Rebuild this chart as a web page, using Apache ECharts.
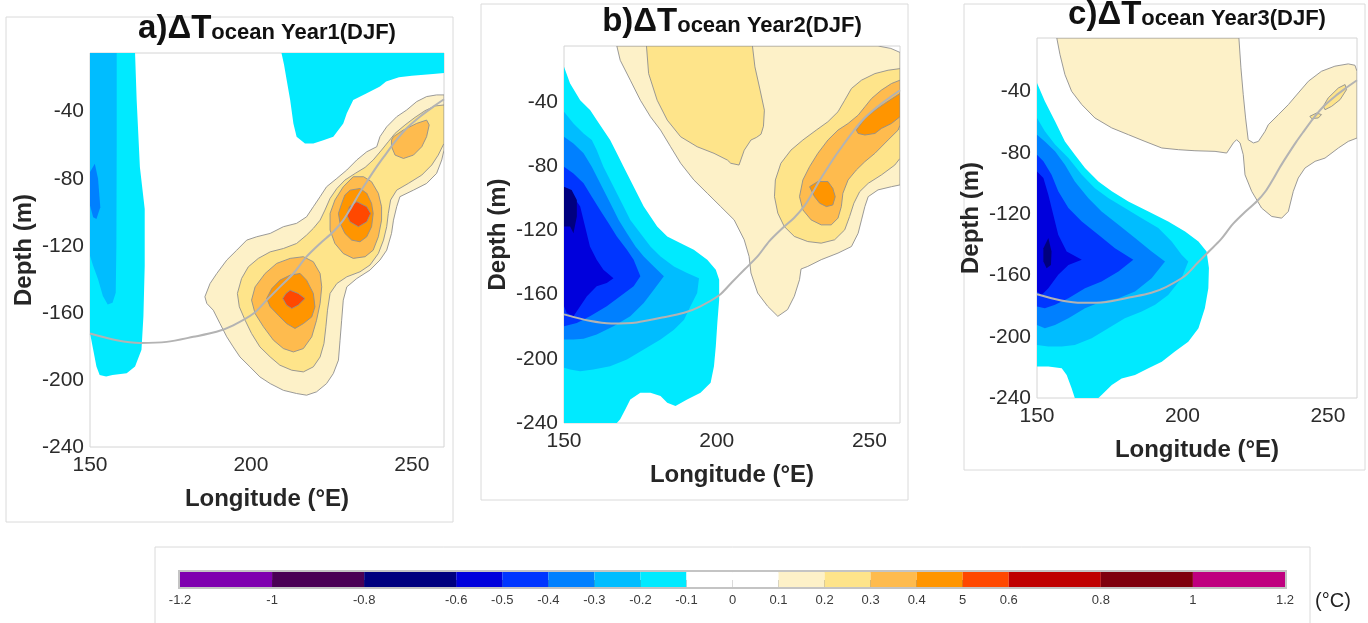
<!DOCTYPE html>
<html>
<head>
<meta charset="utf-8">
<script src="https://cdn.jsdelivr.net/npm/echarts@6/dist/echarts.min.js"></script>
<style>
  html, body { margin: 0; padding: 0; background: #fff; }
  #chart { width: 1368px; height: 623px; }
</style>
</head>
<body>
<div id="chart"></div>
<script>
// colour scale (°C)
const cbEdges  = [-1.2, -1, -0.8, -0.6, -0.5, -0.4, -0.3, -0.2, -0.1, 0, 0.1, 0.2, 0.3, 0.4, 0.5, 0.6, 0.8, 1, 1.2];
const cbLabels = ['-1.2', '-1', '-0.8', '-0.6', '-0.5', '-0.4', '-0.3', '-0.2', '-0.1', '0', '0.1', '0.2', '0.3', '0.4', '5', '0.6', '0.8', '1', '1.2'];
const cbColors = ['#7f00af', '#4a0055', '#00007f', '#0000dc', '#0035ff', '#0080ff', '#00bdff', '#00eaff',
                  '#ffffff', '#ffffff', '#fdf1c8', '#fee48a', '#febb4e', '#ff9500', '#ff4800', '#bf0000', '#7f000d', '#bf007f'];

// climatological thermocline (lon °E, depth m), same in all panels
const thermoLon   = [150, 158.3, 165.5, 173.8, 182.1, 189.3, 194.5, 200.8, 204.9, 209, 213.2, 217.3, 221.5, 225.6, 228.7, 231.3, 233.4, 236, 239.1, 241.7, 244.8, 248.4, 252.5, 256.7, 260];
const thermoDepth = [-172.3, -176.3, -177.9, -177.3, -174.3, -171.3, -167.4, -160.4, -152.4, -144.5, -136.5, -126.5, -118.6, -111.6, -104.7, -96.7, -89.7, -81.8, -72.8, -65.9, -57.9, -49.9, -43, -37, -32.6];

// ---- a) Year1 contours [lon, depth] ----
const aCold1 = [[150,-5],[164,-5],[164.5,-33],[165.5,-73],[167,-98],[167,-132],[166.6,-162],[166,-182],[164,-192],[161.4,-196],[157,-197],[155,-198],[153,-197],[152,-192],[151,-182],[150,-172]];
const aCold2 = [[150,-5],[158.3,-5],[158.3,-60],[158.2,-120],[158,-148],[157,-154],[155.5,-155],[154,-150],[152.5,-140],[151,-132],[150,-126]];
const aCold3 = [[150,-76],[151.5,-71],[152.5,-80],[153.2,-97],[152,-104],[151,-103],[150,-96]];
const aColdTop = [[209.5,-5],[260,-5],[260,-17],[256.6,-17.5],[250,-18.5],[246,-19.5],[242,-22],[240.1,-25],[236,-29],[231.8,-33],[229.8,-41],[228.7,-47],[225.6,-55],[222.5,-57],[219.4,-59],[216.8,-59],[214.2,-55],[213.2,-47],[212.2,-33],[211.1,-21],[210.3,-12]];
const aWarm1 = [[260,-30],[257.7,-30],[254.6,-31],[251.5,-34],[248.4,-39],[245.3,-43],[242.2,-49],[240.1,-54.9],[239.1,-60.9],[236,-63.9],[232.9,-68.8],[229.8,-74.8],[226.7,-79.8],[223.5,-84.8],[221.5,-90.7],[219.4,-96.7],[217.3,-102.7],[214.2,-106.6],[210.1,-108.6],[206,-112.6],[201.8,-114.6],[198.7,-116.6],[195.6,-122.6],[192.5,-128.5],[189.4,-136.5],[187.3,-142.5],[185.7,-150.4],[186.3,-154.4],[188.3,-158.4],[190.4,-166.4],[192.5,-174.3],[194.5,-180.3],[196.6,-186.3],[199.7,-192.2],[202.8,-198.2],[206,-202.2],[210.1,-206.2],[214.2,-208.1],[217.3,-209.1],[220.4,-207.1],[223.5,-202.2],[225.6,-196.2],[227.2,-188.2],[227.7,-176.3],[228.2,-164.4],[228.7,-152.4],[229.8,-144.5],[232.9,-139.5],[237,-134.5],[240.1,-128.5],[242.2,-122.6],[243.7,-112.6],[244.3,-104.7],[245.3,-96.7],[246.3,-90.7],[250.5,-86.8],[254.6,-82.8],[257.7,-76.8],[259.3,-68.8],[260,-62.9]];
const aWarm2 = [[260,-36],[257.2,-36.6],[254.1,-39.4],[251,-43.4],[247.9,-47.9],[244.8,-52.9],[242.7,-57.9],[240.6,-62.9],[238,-68.8],[235.5,-73.2],[232.4,-76.8],[229.2,-80.8],[226.7,-85.8],[224.6,-91.7],[223,-98.7],[221.5,-104.7],[219.4,-109.6],[217.3,-113.6],[214.2,-118.6],[210.1,-121.6],[206,-123.6],[202.3,-127.5],[199.2,-132.5],[197.1,-139.5],[195.8,-148.4],[196.4,-156.4],[198.2,-164.4],[200.2,-172.3],[202.8,-180.3],[206,-186.3],[209,-191.2],[212.7,-194.2],[216.3,-195.2],[219.4,-192.2],[221.5,-186.3],[222.7,-178.3],[223.3,-168.3],[223.8,-158.4],[224.6,-148.4],[226.7,-142.5],[229.8,-138.5],[233.9,-135.5],[237,-131.5],[239.6,-124.6],[241.2,-116.6],[242.2,-108.6],[242.7,-100.7],[243.4,-92.7],[245.3,-86.8],[248.9,-82.8],[253.1,-77.8],[256.2,-71.8],[258.2,-65.9],[260,-58.9]];
const aWarm3Up  = [[244.3,-54.9],[247.4,-50.9],[251.5,-47],[254.6,-45],[255.4,-47.9],[254.6,-54.9],[253.1,-60.9],[250.5,-65.9],[247.4,-67.9],[244.8,-65.9],[243.7,-60.9],[243.7,-56.9]];
const aWarm3Mid = [[231.8,-78.8],[235,-78.8],[237.5,-81.8],[239.6,-88.7],[240.6,-96.7],[240.6,-104.7],[239.6,-114.6],[238,-122.6],[235.5,-126.5],[231.8,-127.5],[228.7,-124.6],[226.1,-118.6],[224.6,-110.6],[224.6,-100.7],[226.1,-92.7],[228.7,-84.8]];
const aWarm3Low = [[208,-130.5],[212.2,-127.5],[216.3,-126.5],[219.4,-129.5],[221.5,-136.5],[222,-144.5],[221.5,-154.4],[220.4,-164.4],[218.9,-174.3],[216.3,-181.3],[213.2,-183.3],[210.1,-181.3],[207,-176.3],[203.9,-168.3],[201.3,-160.4],[200.2,-152.4],[201.3,-144.5],[204.4,-136.5]];
const aWarm4Mid = [[230.8,-86.8],[233.9,-85.8],[236,-88.7],[237.5,-94.7],[238,-100.7],[237.5,-108.6],[236,-114.6],[233.9,-117.6],[231.3,-116.6],[229.2,-112.6],[227.7,-106.6],[227.2,-100.7],[228.2,-94.7],[229.2,-89.7]];
const aWarm4Low = [[209,-140.5],[212.2,-137.5],[215.3,-136.5],[217.3,-140.5],[219.4,-148.4],[219.9,-156.4],[218.9,-162.4],[216.3,-166.4],[213.7,-169.3],[211.1,-166.4],[208.5,-161.4],[206,-156.4],[204.9,-151.4],[206.5,-145.5]];
const aWarm5Mid = [[232.9,-93.7],[236,-96.7],[237.2,-100.7],[236,-105.7],[233.4,-108.6],[230.8,-105.7],[229.8,-101.7],[230.6,-96.7]];
const aWarm5Low = [[212.2,-146.5],[214.7,-148.4],[216.8,-151.4],[214.7,-155.4],[212.7,-157.4],[211.1,-155.4],[209.9,-151.4],[210.9,-148.4]];

// ---- b) Year2 contours ----
const bCold1 = [[150,-18],[152,-28.4],[155.3,-38.8],[158.6,-45],[160.7,-51.2],[162.9,-57.4],[165.1,-63.6],[167.3,-71.9],[169.5,-80.2],[171.7,-88.5],[173.9,-96.8],[176.1,-105.1],[178.3,-111.3],[180.5,-117.5],[183.8,-123.7],[188.2,-127.9],[192.5,-132],[196.9,-138.2],[199.7,-144.5],[200.8,-150.7],[200.8,-163.1],[200.2,-177.6],[199.7,-192.1],[199.1,-204.6],[198,-214.9],[194.7,-221.2],[190.3,-225.3],[186.5,-229.4],[183.8,-227.4],[181.6,-223.2],[178.3,-221.2],[175,-221.2],[171.7,-225.3],[170.1,-231.5],[168.4,-237.7],[167.3,-240],[150,-240]];
const bCold2 = [[150,-46],[153.1,-53.3],[156.4,-59.5],[159.1,-63.6],[160.7,-69.8],[162.9,-80.2],[165.1,-88.5],[167.3,-96.8],[169.5,-105.1],[171.7,-113.4],[175,-121.7],[178.3,-130],[181.6,-136.2],[186,-142.4],[190.3,-146.5],[194.2,-149.7],[193.6,-159],[191.4,-167.3],[189.3,-175.6],[186,-181.8],[181.6,-188],[176.1,-194.2],[170.6,-200.4],[165.1,-204.6],[159.6,-206.6],[155.3,-207.7],[152,-206.6],[150,-205.6]];
const bCold3 = [[150,-61.6],[153.1,-65.7],[156.4,-71.9],[159.1,-80.2],[161.3,-88.5],[163.5,-96.8],[165.7,-105.1],[167.9,-113.4],[170.6,-121.7],[173.4,-130],[176.1,-136.2],[179.4,-142.4],[182.7,-148.6],[179.4,-156.9],[176.1,-165.2],[171.7,-173.5],[166.2,-179.7],[160.7,-184.8],[156.4,-187.5],[153.1,-188],[150,-188]];
const bCold4 = [[150,-80.2],[153.1,-84.4],[156.4,-90.6],[159.1,-98.9],[161.8,-107.2],[164.6,-115.5],[167.3,-123.7],[170.6,-132],[172.8,-138.2],[175,-148.6],[172.8,-154.8],[168.4,-161],[164,-167.3],[158.5,-173.5],[154.2,-177.6],[150,-179.7]];
const bCold5 = [[150,-96.8],[153.1,-98.9],[155.3,-105.1],[156.9,-117.5],[158.5,-130],[160.7,-138.2],[162.9,-144.5],[166.2,-149.7],[164,-152.8],[160.7,-154.8],[157.5,-161],[155.3,-167.3],[153.1,-173.5],[150.9,-171.4],[150,-167.3]];
const bCold6 = [[150,-92.7],[152.5,-94.7],[154.2,-101],[154.2,-111.3],[153.1,-121.7],[152,-117.5],[150,-117.5]];
const bWarm1 = [[167.3,-5],[252.8,-5],[257,-6.5],[260,-9],[260,-91.6],[257.2,-92.7],[252.8,-94.7],[249.6,-98.9],[248.5,-105.1],[247.4,-113.4],[246.3,-121.7],[244.1,-130],[239.7,-134.1],[234.2,-138.2],[229.8,-142.4],[227.6,-144],[227.1,-150.7],[225.4,-161],[223.2,-169.3],[220,-173.5],[216.7,-167.3],[213.4,-159],[211.2,-146.5],[210.6,-136.2],[209,-125.8],[205.7,-113.4],[201.3,-105.1],[196.9,-96.8],[192.5,-88.5],[188.2,-78.1],[184.9,-67.8],[181.6,-57.4],[178.3,-49.1],[175,-38.8],[171.7,-26.3],[168.4,-13.9]];
const bWarm2Left  = [[177,-5],[211.7,-5],[212.5,-18],[214.2,-32.5],[215.6,-45],[215.3,-55],[214.5,-60],[213,-62],[211.2,-63.6],[209,-70],[207.3,-79.2],[204.6,-78.1],[203.5,-76.1],[199.1,-71.9],[193.6,-67.8],[188.2,-61.6],[183.8,-51.2],[180.5,-38.8],[177.7,-22.2]];
const bWarm2Right = [[260,-19.1],[256.1,-20.1],[251.8,-22.2],[247.4,-26.3],[244.1,-31.5],[241.9,-38.8],[239.7,-46],[236.4,-52.2],[232.6,-57.4],[228.2,-63.6],[224.3,-69.9],[221,-78.1],[219.2,-88.5],[218.9,-98.9],[220,-109.2],[222.1,-117.5],[225.4,-123.7],[229.8,-126.9],[234.2,-127.9],[238.6,-125.8],[241.9,-119.6],[243.5,-111.3],[244.9,-103],[246.8,-95.8],[249.6,-90.6],[253.9,-85.4],[258.3,-79.2],[260,-75]];
const bWarm3 = [[260,-26.3],[257.2,-28.4],[253.9,-32.5],[250.7,-37.7],[248.5,-42.9],[246.3,-48.1],[243,-53.3],[239.7,-57.4],[236.4,-63.6],[233.1,-71.9],[230.4,-80.2],[228.2,-88.5],[227.1,-98.9],[228.2,-107.2],[230.9,-113.4],[234.2,-116.5],[237.5,-116.5],[239.7,-112.3],[240.8,-105.1],[241.3,-96.8],[243,-88.5],[245.7,-82.3],[248.5,-77.1],[251.8,-71.9],[256.1,-63.6],[259.4,-57.4],[260,-54.3]];
const bWarm4Low = [[230.4,-92.7],[233.1,-89.5],[236.4,-89.5],[238,-93.7],[238.8,-98.9],[238,-104.1],[235.9,-105.1],[233.7,-103],[232,-98.9]];
const bWarm4Up  = [[245.7,-57.4],[248.5,-50.2],[251.8,-45],[255,-40.8],[258.3,-36.7],[260,-34.6],[260,-49.1],[257.2,-53.3],[253.9,-56.4],[251.8,-59.5],[248.5,-60.5],[246.3,-59.5]];

// ---- c) Year3 contours ----
const cCold1 = [[150,-34.3],[152.7,-46.3],[156.2,-59.4],[159.6,-72.5],[163,-81.2],[166.5,-89.9],[171.1,-98.6],[175.7,-105.1],[181.4,-111.7],[188.3,-118.2],[195.1,-124.8],[200.9,-131.3],[205.5,-137.8],[208.3,-144.4],[209.1,-155.2],[208.9,-168.3],[207.7,-181.4],[205.5,-194.5],[202,-203.2],[197.4,-209.7],[192.9,-216.3],[188.3,-220.6],[183.7,-225],[179.1,-227.2],[175.7,-231.5],[172.2,-238],[171.1,-240],[163,-240],[161.9,-233.7],[160.2,-225],[158.5,-220.6],[153.9,-219.5],[150,-219.5]];
const cCold2 = [[150,-57.2],[152.7,-65.9],[156.2,-74.6],[160.8,-83.4],[165.4,-94.3],[169.9,-103],[174.5,-109.5],[180.2,-116],[186,-122.6],[191.7,-129.1],[196.3,-137.8],[199.7,-146.5],[202,-150.9],[199.7,-161.8],[195.1,-172.7],[190.6,-179.2],[186,-183.6],[180.2,-187.9],[174.5,-194.5],[168.8,-201],[163,-205.4],[158.5,-206.4],[153.9,-206.4],[150,-205.4]];
const cCold3 = [[150,-68.1],[152.7,-72.5],[156.2,-79],[159.6,-87.7],[163,-98.6],[167.6,-109.5],[172.2,-118.2],[178,-126.9],[183.7,-135.6],[189.4,-144.4],[194,-150.9],[189.4,-161.8],[183.7,-170.5],[178,-174.9],[172.2,-177],[166.5,-181.4],[160.8,-187.9],[156.2,-192.3],[152.7,-194.5],[150,-192.3]];
const cCold4 = [[150,-81.2],[152.2,-85.5],[155,-94.3],[157.3,-105.1],[160.8,-116],[165.4,-124.8],[171.1,-133.5],[176.8,-142.2],[183.1,-149.8],[178,-157.4],[172.2,-164],[166.5,-168.3],[160.8,-174.9],[156.2,-179.2],[152.7,-181.4],[150,-180.3]];
const cCold5 = [[150,-92.1],[152.2,-96.4],[153.9,-107.3],[155.6,-120.4],[157.3,-133.5],[160.2,-144.4],[165.4,-149.8],[160.8,-153.1],[157.3,-159.6],[153.9,-168.3],[151.6,-172.7],[150,-170.5]];
const cCold6 = [[152.2,-142.2],[153.9,-135.6],[155,-144.4],[154.8,-153.1],[153.3,-155.3],[152.2,-150.9]];
const cWarm1 = [[156.8,-5],[219.4,-5],[220.1,-24.5],[220.9,-42],[221.7,-57.2],[222.6,-71.4],[224.4,-73.5],[226.1,-72.5],[228.4,-65.9],[229.5,-61.6],[233,-55],[236.4,-48.5],[239.8,-40.9],[243.3,-33.2],[247.8,-26.7],[252.4,-23.4],[257,-21.9],[259.3,-22.8],[260,-26.7],[260,-70.3],[257,-72.5],[253.6,-76.8],[249,-83.4],[245.6,-85.5],[242.1,-89.9],[239.8,-96.4],[238.1,-105.1],[236.4,-118.2],[234.1,-122.6],[230.7,-121.5],[227.2,-116],[223.8,-105.1],[221.5,-94.3],[220.9,-81.2],[219.8,-73.5],[218.6,-71.4],[217.5,-73.5],[215.2,-80.1],[211.2,-79],[204.3,-78.6],[198.6,-77.9],[192.9,-76.8],[187.1,-72.5],[181.4,-68.1],[175.7,-63.7],[169.9,-57.2],[165.4,-48.5],[161.9,-39.8],[159.6,-28.9],[157.9,-15.8]];
const cWarm2a = [[248.4,-49.6],[250.1,-44.1],[253.6,-37.6],[255.9,-35.4],[256.4,-38.7],[254.2,-45.2],[251.3,-49.6],[249,-51.8]];
const cWarm2b = [[243.8,-56.1],[246.1,-54],[247.8,-55],[246.7,-57.2],[244.4,-57.6]];

const panels = [
  { title: 'a)ΔT', sub: 'ocean Year1(DJF)', polys: [
    [-0.1, aCold1], [-0.2, aCold2], [-0.3, aCold3], [-0.1, aColdTop],
    [0.1, aWarm1], [0.2, aWarm2], [0.3, aWarm3Up], [0.3, aWarm3Mid], [0.3, aWarm3Low],
    [0.4, aWarm4Mid], [0.4, aWarm4Low], [0.5, aWarm5Mid], [0.5, aWarm5Low]] },
  { title: 'b)ΔT', sub: 'ocean Year2(DJF)', polys: [
    [-0.1, bCold1], [-0.2, bCold2], [-0.3, bCold3], [-0.4, bCold4], [-0.5, bCold5], [-0.6, bCold6],
    [0.1, bWarm1], [0.2, bWarm2Left], [0.2, bWarm2Right], [0.3, bWarm3], [0.4, bWarm4Low], [0.4, bWarm4Up]] },
  { title: 'c)ΔT', sub: 'ocean Year3(DJF)', polys: [
    [-0.1, cCold1], [-0.2, cCold2], [-0.3, cCold3], [-0.4, cCold4], [-0.5, cCold5], [-0.6, cCold6],
    [0.1, cWarm1], [0.2, cWarm2a], [0.2, cWarm2b]] }
];

// layout
const grids = [
  { left: 90,  top: 53, width: 354, height: 394 },
  { left: 564, top: 46, width: 336, height: 377 },
  { left: 1037, top: 38, width: 320, height: 360 }
];
const frames = [[6, 17, 447, 505], [481, 4, 427, 496], [964, 4, 401, 466]];
const titlePos = [[267, 45], [732, 38], [1197, 31]];

const FONT = '"Liberation Sans", Arial, sans-serif';

function edgeIndex(v) {
  return cbEdges.findIndex(e => Math.abs(e - v) < 1e-6);
}
function colorFor(level) {
  const i = edgeIndex(level);
  return level < 0 ? cbColors[i - 1] : cbColors[i];
}

const myChart = echarts.init(document.getElementById('chart'));

const xAxes = [], yAxes = [], series = [], graphics = [];

grids.forEach((g, i) => {
  xAxes.push({
    gridIndex: i, type: 'value', min: 150, max: 260, interval: 50,
    axisLine: { show: false }, axisTick: { show: false }, splitLine: { show: false },
    axisLabel: { fontSize: 21, color: '#2b2b2b', margin: 8, fontFamily: FONT, showMaxLabel: false },
    name: 'Longitude (°E)', nameLocation: 'middle', nameGap: 40,
    nameTextStyle: { fontSize: 24, fontWeight: 'bold', color: '#262626', fontFamily: FONT }
  });
  yAxes.push({
    gridIndex: i, type: 'value', min: -240, max: -5, interval: 40,
    axisLine: { show: false }, axisTick: { show: false }, splitLine: { show: false },
    axisLabel: { fontSize: 21, color: '#2b2b2b', margin: 6, fontFamily: FONT, showMaxLabel: false },
    name: 'Depth (m)', nameLocation: 'middle', nameGap: 54, nameRotate: 90,
    nameTextStyle: { fontSize: 24, fontWeight: 'bold', color: '#262626', fontFamily: FONT }
  });

  const polys = panels[i].polys;
  series.push({
    type: 'custom', xAxisIndex: i, yAxisIndex: i, clip: true, silent: true,
    data: polys.map(p => p[1][0]),
    renderItem: (params, api) => {
      const level = polys[params.dataIndex][0];
      const pts = polys[params.dataIndex][1];
      const warm = level > 0;
      return {
        type: 'polygon',
        shape: { points: pts.map(q => api.coord(q)) },
        style: {
          fill: colorFor(level),
          stroke: warm ? '#8f8f8f' : null,
          lineWidth: warm ? 0.9 : 0
        }
      };
    }
  });
  series.push({
    type: 'line', xAxisIndex: i, yAxisIndex: i, silent: true,
    data: thermoLon.map((x, k) => [x, thermoDepth[k]]),
    smooth: 0.3, showSymbol: false, z: 5,
    lineStyle: { color: '#b3b3b3', width: 2 }
  });

  const f = frames[i];
  graphics.push({
    type: 'rect', shape: { x: f[0], y: f[1], width: f[2], height: f[3] },
    style: { fill: null, stroke: '#dadada', lineWidth: 1 }, silent: true, z: -1
  });
  graphics.push({
    type: 'text', x: titlePos[i][0], y: titlePos[i][1], silent: true, z: 10,
    style: {
      text: '{t|' + panels[i].title + '}{s|' + panels[i].sub + '}',
      align: 'center', verticalAlign: 'bottom',
      rich: {
        t: { fontSize: 33, fontWeight: 'bold', fontFamily: FONT, fill: '#111', color: '#111', verticalAlign: 'bottom' },
        s: { fontSize: 22, fontWeight: 'bold', fontFamily: FONT, fill: '#111', color: '#111', verticalAlign: 'bottom', padding: [0, 0, 1, 0] }
      }
    }
  });
});

// colour bar
grids.push({ left: 180, top: 572, width: 1105, height: 15 });
xAxes.push({
  gridIndex: 3, type: 'value', min: -1.2, max: 1.2,
  axisLine: { show: false }, splitLine: { show: false },
  axisTick: { show: true, inside: true, length: 7, customValues: cbEdges, lineStyle: { color: '#6b6b6b', width: 1 } },
  axisLabel: {
    customValues: cbEdges, fontSize: 13, color: '#3a3a3a', margin: 7,
    fontFamily: '"Liberation Sans Narrow", "Liberation Sans", sans-serif',
    formatter: v => { const k = edgeIndex(v); return k >= 0 ? cbLabels[k] : ''; }
  }
});
yAxes.push({ gridIndex: 3, type: 'value', min: 0, max: 1, show: false });
series.push({
  type: 'custom', xAxisIndex: 3, yAxisIndex: 3, silent: true, z: 1,
  encode: { x: [0, 1], y: 2 },
  data: cbColors.map((c, k) => [cbEdges[k], cbEdges[k + 1], 0]),
  renderItem: (params, api) => {
    const p0 = api.coord([api.value(0), 0]);
    const p1 = api.coord([api.value(1), 1]);
    return {
      type: 'rect',
      shape: { x: p0[0], y: p1[1], width: p1[0] - p0[0], height: p0[1] - p1[1] },
      style: { fill: cbColors[params.dataIndex], stroke: null }
    };
  }
});
graphics.push({
  type: 'rect', shape: { x: 155, y: 547, width: 1155, height: 100 },
  style: { fill: null, stroke: '#dadada', lineWidth: 1 }, silent: true, z: -1
});
graphics.push({
  type: 'rect', shape: { x: 179, y: 571, width: 1107, height: 17 },
  style: { fill: null, stroke: '#c4c4c4', lineWidth: 2 }, silent: true, z: 10
});
graphics.push({
  type: 'text', x: 1333, y: 601, silent: true,
  style: { text: '(°C)', fontSize: 20, fontFamily: FONT, fill: '#222', align: 'center', verticalAlign: 'middle' }
});

myChart.setOption({
  animation: false,
  backgroundColor: '#ffffff',
  grid: grids.map(g => Object.assign({ show: true, borderColor: '#d4d4d4', borderWidth: 1, backgroundColor: 'transparent' }, g)),
  xAxis: xAxes,
  yAxis: yAxes,
  series: series,
  graphic: { elements: graphics }
});

window.addEventListener('resize', () => myChart && myChart.resize());
</script>
</body>
</html>
